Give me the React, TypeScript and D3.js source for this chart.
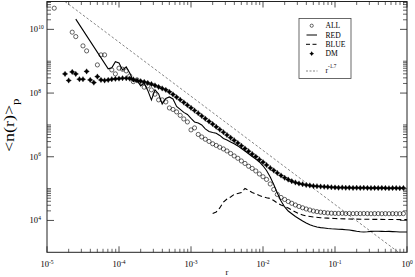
import React from 'react';
import * as d3 from 'd3';

const W = 415, H = 277;
const PL = 47, PR = 407, PT = 1.5, PB = 252.3;

const xTickExps = [-5, -4, -3, -2, -1, 0];
const yTickExps = [4, 6, 8, 10];
const yMinorExps = [4, 6, 8, 10];
const legendLabels = ['ALL', 'RED', 'BLUE', 'DM'];
const powerLabel = 'r';
const powerExpLabel = '-1.7';
const powerAmp = 630;
const powerExp = -1.7;

const allR = [1.26e-5, 2.24e-5, 2.51e-5, 3.16e-5, 3.55e-5, 5.01e-5, 5.62e-5, 6.31e-5, 7.94e-5, 8.91e-5,
  1.00e-4, 1.12e-4, 1.26e-4, 1.41e-4, 1.58e-4, 1.78e-4, 2.00e-4, 2.24e-4, 2.51e-4, 2.82e-4, 3.16e-4, 3.55e-4, 3.98e-4, 4.47e-4, 5.01e-4, 5.62e-4, 6.31e-4, 7.08e-4, 7.94e-4, 8.91e-4,
  1.00e-3, 1.12e-3, 1.26e-3, 1.41e-3, 1.58e-3, 1.78e-3, 2.00e-3, 2.24e-3, 2.51e-3, 2.82e-3, 3.16e-3, 3.55e-3, 3.98e-3, 4.47e-3, 5.01e-3, 5.62e-3, 6.31e-3, 7.08e-3, 7.94e-3, 8.91e-3,
  1.00e-2, 1.12e-2, 1.26e-2, 1.41e-2, 1.58e-2, 1.78e-2, 2.00e-2, 2.24e-2, 2.51e-2, 2.82e-2, 3.16e-2, 3.55e-2, 3.98e-2, 4.47e-2, 5.01e-2, 5.62e-2, 6.31e-2, 7.08e-2, 7.94e-2, 8.91e-2,
  1.00e-1, 1.12e-1, 1.26e-1, 1.41e-1, 1.58e-1, 1.78e-1, 2.00e-1, 2.24e-1, 2.51e-1, 2.82e-1, 3.16e-1, 3.55e-1, 3.98e-1, 4.47e-1, 5.01e-1, 5.62e-1, 6.31e-1, 7.08e-1, 7.94e-1, 8.91e-1];
const allN = [4.63e10, 8.16e9, 5.93e9, 3.03e9, 2.11e9, 7.66e8, 1.58e9, 1.58e9, 5.33e8, 4.00e8,
  6.04e8, 5.61e8, 4.97e8, 3.46e8, 2.29e8, 2.59e8, 2.13e8, 1.53e8, 1.68e8, 1.26e8, 9.21e7, 6.10e7, 6.10e7, 5.27e7, 3.41e7, 3.06e7, 2.56e7, 1.99e7, 1.54e7, 1.24e7,
  6.97e6, 8.04e6, 5.02e6, 4.19e6, 3.55e6, 3.03e6, 2.56e6, 2.27e6, 1.99e6, 1.76e6, 1.52e6, 1.27e6, 1.06e6, 8.97e5, 7.38e5, 6.17e5, 5.04e5, 4.30e5, 3.58e5, 2.88e5,
  2.36e5, 1.94e5, 1.40e5, 9.40e4, 6.55e4, 5.27e4, 4.56e4, 3.94e4, 3.46e4, 3.06e4, 2.75e4, 2.50e4, 2.29e4, 2.13e4, 1.98e4, 1.89e4, 1.82e4, 1.77e4, 1.72e4, 1.69e4,
  1.67e4, 1.66e4, 1.67e4, 1.65e4, 1.66e4, 1.64e4, 1.65e4, 1.64e4, 1.65e4, 1.64e4, 1.63e4, 1.64e4, 1.64e4, 1.63e4, 1.64e4, 1.63e4, 1.64e4, 1.63e4, 1.63e4, 1.64e4];

const dmR = [1.78e-5, 2.00e-5, 2.24e-5, 2.51e-5, 2.82e-5, 3.16e-5, 3.55e-5, 3.98e-5, 4.47e-5, 5.01e-5, 5.62e-5, 6.31e-5, 7.08e-5, 7.94e-5, 8.91e-5,
  1.00e-4, 1.12e-4, 1.26e-4, 1.41e-4, 1.58e-4, 1.78e-4, 2.00e-4, 2.24e-4, 2.51e-4, 2.82e-4, 3.16e-4, 3.55e-4, 3.98e-4, 4.47e-4, 5.01e-4, 5.62e-4, 6.31e-4, 7.08e-4, 7.94e-4, 8.91e-4,
  1.00e-3, 1.12e-3, 1.26e-3, 1.41e-3, 1.58e-3, 1.78e-3, 2.00e-3, 2.24e-3, 2.51e-3, 2.82e-3, 3.16e-3, 3.55e-3, 3.98e-3, 4.47e-3, 5.01e-3, 5.62e-3, 6.31e-3, 7.08e-3, 7.94e-3, 8.91e-3,
  1.00e-2, 1.12e-2, 1.26e-2, 1.41e-2, 1.58e-2, 1.78e-2, 2.00e-2, 2.24e-2, 2.51e-2, 2.82e-2, 3.16e-2, 3.55e-2, 3.98e-2, 4.47e-2, 5.01e-2, 5.62e-2, 6.31e-2, 7.08e-2, 7.94e-2, 8.91e-2,
  1.00e-1, 1.12e-1, 1.26e-1, 1.41e-1, 1.58e-1, 1.78e-1, 2.00e-1, 2.24e-1, 2.51e-1, 2.82e-1, 3.16e-1, 3.55e-1, 3.98e-1, 4.47e-1, 5.01e-1, 5.62e-1, 6.31e-1, 7.08e-1, 7.94e-1, 8.91e-1];
const dmN = [4.00e8, 2.49e8, 4.61e8, 4.00e8, 2.72e8, 2.72e8, 4.79e8, 2.59e8, 2.13e8, 3.29e8, 2.59e8, 2.49e8, 2.59e8, 2.72e8, 2.79e8,
  2.84e8, 2.93e8, 2.93e8, 2.84e8, 2.69e8, 2.49e8, 2.36e8, 2.24e8, 2.08e8, 1.91e8, 1.74e8, 1.56e8, 1.40e8, 1.26e8, 1.09e8, 9.08e7, 7.46e7, 6.18e7, 5.08e7, 4.18e7,
  3.44e7, 2.83e7, 2.33e7, 1.91e7, 1.57e7, 1.29e7, 1.06e7, 8.71e6, 7.16e6, 5.89e6, 4.84e6, 3.98e6, 3.28e6, 2.70e6, 2.22e6, 1.81e6, 1.49e6, 1.22e6, 1.01e6, 8.22e5,
  6.78e5, 5.53e5, 4.45e5, 3.72e5, 3.10e5, 2.59e5, 2.19e5, 1.92e5, 1.71e5, 1.56e5, 1.45e5, 1.37e5, 1.30e5, 1.26e5, 1.21e5, 1.19e5, 1.16e5, 1.14e5, 1.13e5, 1.10e5,
  1.09e5, 1.07e5, 1.08e5, 1.06e5, 1.07e5, 1.05e5, 1.06e5, 1.05e5, 1.06e5, 1.05e5, 1.04e5, 1.05e5, 1.04e5, 1.05e5, 1.04e5, 1.03e5, 1.04e5, 1.04e5, 1.03e5, 1.04e5];

const redR = [2.51e-5, 7.08e-5, 7.94e-5, 8.91e-5,
  1.00e-4, 1.12e-4, 1.26e-4, 1.41e-4, 1.58e-4, 1.78e-4, 2.00e-4, 2.24e-4, 2.51e-4, 2.82e-4, 3.16e-4, 3.55e-4, 3.98e-4, 4.47e-4, 5.01e-4, 5.62e-4, 6.31e-4, 7.08e-4, 7.94e-4, 8.91e-4,
  1.00e-3, 1.12e-3, 1.26e-3, 1.41e-3, 1.58e-3, 1.78e-3, 2.00e-3, 2.24e-3, 2.51e-3, 2.82e-3, 3.16e-3, 3.55e-3, 3.98e-3, 4.47e-3, 5.01e-3, 5.62e-3, 6.31e-3, 7.08e-3, 7.94e-3, 8.91e-3,
  1.00e-2, 1.12e-2, 1.26e-2, 1.41e-2, 1.58e-2, 1.78e-2, 2.00e-2, 2.24e-2, 2.51e-2, 2.82e-2, 3.16e-2, 3.55e-2, 3.98e-2, 4.47e-2, 5.01e-2, 5.62e-2, 6.31e-2, 7.08e-2, 7.94e-2, 8.91e-2,
  1.00e-1, 1.12e-1, 1.26e-1, 1.41e-1, 1.58e-1, 1.78e-1, 2.00e-1, 2.24e-1, 2.51e-1, 2.82e-1, 3.16e-1, 3.55e-1, 3.98e-1, 4.47e-1, 5.01e-1, 5.62e-1, 6.31e-1, 7.08e-1, 7.94e-1, 8.91e-1, 1.00];
const redN = [2.09e10, 5.74e8, 6.17e8, 9.72e8,
  8.85e8, 5.33e8, 6.64e8, 4.30e8, 2.32e8, 2.59e8, 1.68e8, 2.01e8, 1.21e8, 6.10e7, 1.26e8, 9.40e7, 4.56e7, 6.79e7, 7.57e7, 6.55e7, 3.81e7, 3.06e7, 2.47e7, 2.13e7,
  1.60e7, 1.24e7, 1.15e7, 9.98e6, 7.48e6, 6.24e6, 5.81e6, 5.48e6, 4.67e6, 3.76e6, 3.37e6, 2.92e6, 2.56e6, 2.19e6, 1.82e6, 1.52e6, 1.24e6, 1.02e6, 8.41e5, 6.87e5,
  5.22e5, 3.72e5, 2.32e5, 1.35e5, 7.29e4, 4.09e4, 2.65e4, 1.98e4, 1.62e4, 1.33e4, 1.13e4, 9.62e3, 8.32e3, 7.31e3, 6.70e3, 6.24e3, 5.97e3, 5.80e3, 5.59e3, 5.47e3,
  5.40e3, 5.32e3, 5.24e3, 5.12e3, 5.02e3, 4.80e3, 4.57e3, 4.42e3, 4.35e3, 4.42e3, 4.54e3, 4.57e3, 4.57e3, 4.54e3, 4.50e3, 4.54e3, 4.47e3, 4.42e3, 4.35e3, 4.35e3, 4.35e3];

const blueR = [2.00e-3, 2.24e-3, 2.51e-3, 2.82e-3, 3.16e-3, 3.55e-3, 3.98e-3, 4.47e-3, 5.01e-3, 5.62e-3, 6.31e-3, 7.08e-3, 7.94e-3, 8.91e-3,
  1.00e-2, 1.12e-2, 1.26e-2, 1.41e-2, 1.58e-2, 1.78e-2, 2.00e-2, 2.24e-2, 2.51e-2, 2.82e-2, 3.16e-2, 3.55e-2, 3.98e-2,
  5.01e-2, 6.31e-2, 7.94e-2, 1.00e-1, 1.58e-1, 2.51e-1, 3.98e-1, 6.31e-1, 1.00];
const blueN = [1.66e4, 1.85e4, 2.47e4, 3.80e4, 4.73e4, 5.46e4, 6.55e4, 7.03e4, 7.57e4, 1.01e5, 8.75e4, 7.57e4, 6.79e4, 6.09e4,
  5.54e4, 5.15e4, 4.90e4, 4.24e4, 3.54e4, 3.06e4, 2.75e4, 2.47e4, 2.13e4, 1.85e4, 1.62e4, 1.49e4, 1.38e4,
  1.28e4, 1.22e4, 1.18e4, 1.15e4, 1.11e4, 1.09e4, 1.08e4, 1.07e4, 1.06e4];

const FONT = "'Liberation Serif', 'Times New Roman', serif";
const AX = '#222';

const star4 = {
  draw(ctx: any, size: number) {
    const r = Math.sqrt(size) / 2;
    const ri = r * 0.55;
    for (let i = 0; i < 8; i++) {
      const a = (i * Math.PI) / 4 - Math.PI / 2;
      const rad = i % 2 === 0 ? r : ri;
      const px = Math.cos(a) * rad, py = Math.sin(a) * rad;
      if (i === 0) ctx.moveTo(px, py); else ctx.lineTo(px, py);
    }
    ctx.closePath();
  },
};

export default function App() {
  const x = d3.scaleLog().domain([1e-5, 1]).range([PL, PR]);
  const y = d3.scaleLog().domain([1e3, 7.5e10]).range([PB, PT]);

  const zip = (rs: number[], ns: number[]) => rs.map((r, i) => [r, ns[i]] as [number, number]);
  const allPts = zip(allR, allN);
  const dmPts = zip(dmR, dmN);
  const redPts = zip(redR, redN);
  const bluePts = zip(blueR, blueN);
  const powerPts: [number, number][] = x.domain().map((r) => [r, powerAmp * Math.pow(r, powerExp)]);

  const line = d3.line<[number, number]>().x((d) => x(d[0])).y((d) => y(d[1]));
  const starPath = d3.symbol().type(star4 as any).size(30)() as string;
  const starLegend = d3.symbol().type(star4 as any).size(22)() as string;

  const xMajor = xTickExps.map((e) => Math.pow(10, e));
  const xMinor: number[] = [];
  xTickExps.slice(0, -1).forEach((e) => {
    for (let k = 2; k <= 9; k++) xMinor.push(k * Math.pow(10, e));
  });
  const yMajor = yTickExps.map((e) => Math.pow(10, e));
  const yMinor: number[] = [];
  yMinorExps.forEach((e) => {
    for (let k = 2; k <= 10; k++) {
      const v = k * Math.pow(10, e);
      if (v < y.domain()[1]) yMinor.push(v);
    }
  });

  return (
    <svg width={W} height={H} style={{ position: 'absolute', left: 0, top: 0, background: '#fff' }} fontFamily={FONT}>
      <defs>
        <clipPath id="plotclip">
          <rect x={PL} y={PT} width={PR - PL} height={PB - PT} />
        </clipPath>
      </defs>
      <rect x={0} y={0} width={W} height={H} fill="#fff" />

      <g clipPath="url(#plotclip)">
        <path d={line(powerPts) as string} fill="none" stroke="#333" strokeWidth={0.6} strokeDasharray="2.5,2" />
        <path d={line(redPts) as string} fill="none" stroke="#000" strokeWidth={1.1} />
        <path d={line(bluePts) as string} fill="none" stroke="#000" strokeWidth={1.1} strokeDasharray="5,3" />
        {allPts.map((d, i) => (
          <circle key={'a' + i} cx={x(d[0])} cy={y(d[1])} r={2.1} fill="none" stroke="#000" strokeWidth={0.6} />
        ))}
        {dmPts.map((d, i) => (
          <path key={'d' + i} d={starPath} transform={`translate(${x(d[0])},${y(d[1])})`} fill="#000" stroke="#000" strokeWidth={0.3} />
        ))}
      </g>

      <rect x={PL} y={PT} width={PR - PL} height={PB - PT} fill="none" stroke={AX} strokeWidth={1} />

      {xMajor.map((v, i) => (
        <g key={'xM' + i}>
          <line x1={x(v)} x2={x(v)} y1={PB} y2={PB - 6} stroke={AX} strokeWidth={0.8} />
          <line x1={x(v)} x2={x(v)} y1={PT} y2={PT + 6} stroke={AX} strokeWidth={0.8} />
          <text x={x(v)} y={267} fontSize={8.5} textAnchor="middle" fill="#000">
            10<tspan dy={-3.5} fontSize={5.5}>{xTickExps[i]}</tspan>
          </text>
        </g>
      ))}
      {xMinor.map((v, i) => (
        <g key={'xm' + i}>
          <line x1={x(v)} x2={x(v)} y1={PB} y2={PB - 3.5} stroke={AX} strokeWidth={0.7} />
          <line x1={x(v)} x2={x(v)} y1={PT} y2={PT + 3.5} stroke={AX} strokeWidth={0.7} />
        </g>
      ))}

      {yMajor.map((v, i) => (
        <g key={'yM' + i}>
          <line x1={PL} x2={PL + 7} y1={y(v)} y2={y(v)} stroke={AX} strokeWidth={0.8} />
          <line x1={PR} x2={PR - 7} y1={y(v)} y2={y(v)} stroke={AX} strokeWidth={0.8} />
          <text x={38} y={y(v) + 3} fontSize={8.5} textAnchor="end" fill="#000">10</text>
          <text x={38.3} y={y(v) - 0.5} fontSize={5.5} textAnchor="start" fill="#000">{yTickExps[i]}</text>
        </g>
      ))}
      {yMinor.map((v, i) => (
        <g key={'ym' + i}>
          <line x1={PL} x2={PL + 4} y1={y(v)} y2={y(v)} stroke={AX} strokeWidth={0.7} />
          <line x1={PR} x2={PR - 4} y1={y(v)} y2={y(v)} stroke={AX} strokeWidth={0.7} />
        </g>
      ))}

      <text x={227} y={275} fontSize={8.5} textAnchor="middle" fill="#000">r</text>
      <text transform="translate(14,152) rotate(-90) scale(1.28,1)" fontSize={14} fill="#000">
        {'<n(r)>'}
        <tspan fontSize={10} dy={5}>p</tspan>
      </text>

      <g>
        <rect x={299} y={18.5} width={52} height={60} fill="#fff" stroke="#444" strokeWidth={0.8} />
        <circle cx={311.7} cy={25.7} r={1.6} fill="none" stroke="#000" strokeWidth={0.6} />
        <line x1={306.5} x2={317} y1={35} y2={35} stroke="#000" strokeWidth={1} />
        <line x1={306} x2={317.5} y1={44.3} y2={44.3} stroke="#000" strokeWidth={1} strokeDasharray="4,2.5" />
        <path d={starLegend} transform="translate(311.7,53.7)" fill="#000" />
        <line x1={306} x2={317.5} y1={71} y2={71} stroke="#333" strokeWidth={0.6} strokeDasharray="2,1.5" />
        {legendLabels.map((t, i) => (
          <text key={t} x={325.5} y={28.4 + i * 9.35} fontSize={7.6} fill="#000">{t}</text>
        ))}
        <text x={325.5} y={73} fontSize={7.6} fill="#000">
          {powerLabel}
          <tspan dy={-5.5} fontSize={5.2}>{powerExpLabel}</tspan>
        </text>
      </g>
    </svg>
  );
}
